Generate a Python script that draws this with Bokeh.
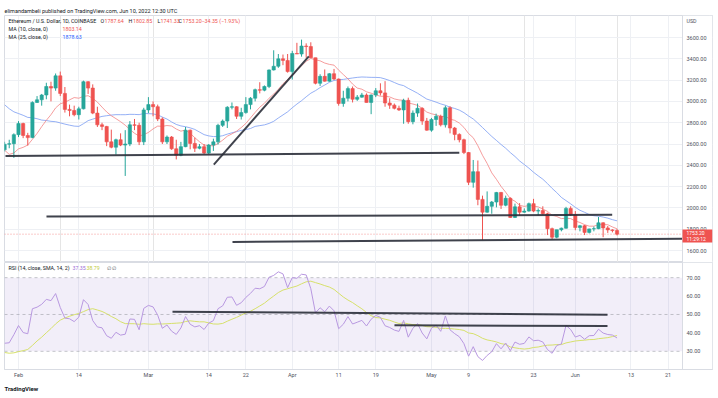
from bokeh.plotting import figure
from bokeh.layouts import column
from bokeh.models import (ColumnDataSource, FixedTicker, Grid, Span, BoxAnnotation,
                          Label, Title, NumeralTickFormatter, Range1d)
from bokeh.embed import file_html
from bokeh.resources import INLINE
import pandas as pd

# ---------------- data (ETH/USD daily, Coinbase) ----------------
# day numbers: Jan 1 2022 = 0 ; first visible candle = Jan 29 2022
FIRST_DAY = 28

open_ = [2545, 2598, 2603, 2688, 2792, 2680, 2660, 2990, 3015, 3060, 3140, 3125, 3240, 3075, 2925, 2915,
         2875, 2930, 3185, 3125, 2890, 2780, 2765, 2620, 2570, 2640, 2590, 2600, 2780, 2775, 2620,
         2920, 2970, 2950, 2835, 2620, 2665, 2555, 2495, 2575, 2730, 2605, 2560, 2575, 2515, 2590,
         2620, 2775, 2815, 2945, 2950, 2860, 2895, 2970, 3030, 3110, 3105, 3140, 3295, 3330, 3400,
         3385, 3280, 3450, 3445, 3520, 3515, 3410, 3170, 3235, 3190, 3260, 3210, 2980, 3030, 3120,
         3020, 3040, 3060, 2990, 3060, 3100, 3080, 2985, 2965, 2935, 2920, 3010, 2810, 2890, 2935,
         2815, 2730, 2830, 2860, 2780, 2940, 2750, 2690, 2640, 2520, 2240, 2340, 2080, 1960, 2015,
         2055, 2145, 2025, 2090, 1910, 2010, 1960, 1970, 2040, 1970, 1975, 1945, 1805, 1725, 1795,
         1809.35, 1995, 1935, 1815, 1832, 1770, 1803, 1805, 1860, 1812, 1793.65, 1787.64]
high = [2621, 2640, 2700, 2815, 2800, 2705, 3000, 3050, 3070, 3175, 3185, 3262, 3280, 3135, 2970, 2960,
        2950, 3195, 3190, 3160, 2950, 2800, 2770, 2735, 2650, 2700, 2730, 2815, 2835, 2800, 2940,
        3040, 3000, 2970, 2850, 2680, 2675, 2640, 2620, 2760, 2735, 2660, 2600, 2600, 2600, 2650,
        2790, 2830, 2955, 2990, 2955, 2940, 3040, 3040, 3120, 3180, 3150, 3300, 3480, 3445, 3440,
        3445, 3475, 3550, 3580, 3545, 3555, 3410, 3255, 3300, 3265, 3305, 3215, 3100, 3140, 3140,
        3060, 3080, 3075, 3065, 3125, 3170, 3190, 3030, 2980, 2960, 3025, 3035, 2915, 2980, 2945,
        2845, 2845, 2885, 2875, 2960, 2955, 2760, 2700, 2650, 2525, 2450, 2445, 2115, 2155, 2065,
        2150, 2150, 2115, 2100, 2040, 2045, 1995, 2050, 2085, 1995, 2015, 1955, 1815, 1795, 1815,
        2010, 2015, 1970, 1840, 1840, 1805, 1825, 1915, 1865, 1830, 1800, 1802.85]
low = [2530, 2560, 2470, 2665, 2655, 2585, 2655, 2985, 2960, 3020, 3000, 3100, 3050, 2895, 2860, 2860,
       2830, 2925, 3070, 2880, 2760, 2730, 2580, 2560, 2500, 2580, 2300, 2580, 2730, 2590, 2590,
       2890, 2860, 2815, 2600, 2600, 2545, 2455, 2485, 2570, 2550, 2525, 2550, 2505, 2505, 2535,
       2595, 2760, 2750, 2925, 2835, 2830, 2885, 2925, 3000, 3075, 3095, 3125, 3290, 3315, 3340,
       3270, 3205, 3445, 3420, 3410, 3410, 3160, 3145, 3185, 3185, 3200, 2960, 2950, 3000, 2990,
       3005, 3035, 2990, 2880, 3040, 3055, 2950, 2930, 2925, 2910, 2790, 2790, 2785, 2855, 2780,
       2725, 2715, 2770, 2765, 2755, 2700, 2635, 2615, 2505, 2215, 2190, 2025, 1700, 1955, 1945,
       2005, 1990, 2015, 1905, 1905, 1930, 1955, 1965, 1960, 1930, 1935, 1745, 1705, 1715, 1780,
       1805, 1925, 1790, 1780, 1745, 1760, 1780, 1800, 1725, 1765, 1770, 1741.33]
close = [2598, 2603, 2688, 2792, 2680, 2660, 2990, 3015, 3060, 3140, 3125, 3240, 3075, 2925, 2915, 2875,
         2930, 3185, 3125, 2890, 2780, 2765, 2620, 2570, 2640, 2590, 2600, 2780, 2775, 2620, 2920,
         2970, 2950, 2835, 2620, 2665, 2555, 2495, 2575, 2730, 2605, 2560, 2575, 2515, 2590, 2620,
         2775, 2815, 2945, 2950, 2860, 2895, 2970, 3030, 3110, 3105, 3140, 3295, 3330, 3400, 3385,
         3280, 3450, 3445, 3520, 3515, 3410, 3170, 3235, 3190, 3260, 3210, 2980, 3030, 3120, 3020,
         3040, 3060, 2990, 3060, 3100, 3080, 2985, 2965, 2935, 2920, 3010, 2810, 2890, 2935, 2815,
         2730, 2830, 2860, 2780, 2940, 2750, 2690, 2640, 2520, 2240, 2340, 2080, 1960, 2015, 2055,
         2145, 2025, 2090, 1910, 2010, 1960, 1970, 2040, 1970, 1975, 1945, 1805, 1725, 1795, 1809.35,
         1995, 1935, 1815, 1832, 1770, 1803, 1805, 1860, 1812, 1793.65, 1787.55, 1753.20]

# closes before the visible window (Dec 1 2021 - Jan 28 2022), needed by the indicators
history_close = [4585, 4510, 4220, 4115, 4195, 4350, 4310, 4430, 4110, 3905, 4075, 4130, 3780, 3855,
                 4020, 3960, 3925, 3960, 3925, 3940, 4020, 3980, 4110, 4045, 4095, 4060, 4040, 3795,
                 3630, 3710, 3680,
                 3770, 3830, 3765, 3790, 3540, 3410, 3195, 3090, 3155, 3080, 3240, 3375, 3250, 3310,
                 3330, 3350, 3210, 3165, 3095, 2995, 2560, 2405, 2535, 2440, 2460, 2460, 2420, 2545]

tick_days = [31, 44, 59, 72, 80, 90, 100, 108, 120, 128, 142, 151, 163, 171]
tick_labels = ["Feb", "14", "Mar", "14", "22", "Apr", "11", "19", "May", "9", "23", "Jun", "13", "21"]
price_ticks = [1600, 1800, 2000, 2200, 2400, 2600, 2800, 3000, 3200, 3400, 3600]
rsi_ticks = [30, 40, 50, 60, 70]
rsi_bands = [70, 50, 30]

# hand-drawn trend lines (day, price)
trend_x0 = [28.2, 73.09, 37.03, 77.12]
trend_y0 = [2487, 2407, 1919, 1680]
trend_x1 = [126.0, 93.57, 158.95, 174.1]
trend_y1 = [2517, 3422, 1935, 1710]
# hand-drawn lines on RSI pane (day, rsi)
rsi_line_x0 = [64.19, 112.03]
rsi_line_y0 = [51.5, 44.1]
rsi_line_x1 = [157.94, 157.94]
rsi_line_y1 = [49.9, 43.7]

last_price = 1753.20

# ---------------- indicators ----------------
n_hist = len(history_close)
all_close = pd.Series(history_close + close, dtype=float)
ma10 = all_close.rolling(10).mean().iloc[n_hist:].tolist()
ma25 = all_close.rolling(25).mean().iloc[n_hist:].tolist()
delta = all_close.diff()
gain = delta.clip(lower=0)
loss = (-delta).clip(lower=0)
avg_gain = gain.ewm(alpha=1 / 14, adjust=False).mean()
avg_loss = loss.ewm(alpha=1 / 14, adjust=False).mean()
rsi_all = 100 - 100 / (1 + avg_gain / avg_loss)
rsi_ma_all = rsi_all.rolling(14).mean()
rsi = rsi_all.iloc[n_hist:].tolist()
rsi_ma = rsi_ma_all.iloc[n_hist:].tolist()

days = list(range(FIRST_DAY, FIRST_DAY + len(close)))
GREEN, RED = "#26a69a", "#ef5350"
src = ColumnDataSource(dict(
    x=days, o=open_, h=high, l=low, c=close,
    top=[max(a, b) for a, b in zip(open_, close)],
    bot=[min(a, b) for a, b in zip(open_, close)],
    col=[GREEN if c >= o else RED for o, c in zip(open_, close)],
))

# ---------------- geometry helpers (page pixel -> data) for text placement ----------------
def dx(px):
    return 31 + (px - 18) / 4.64

def py(y):
    return 3600 - (y - 37) / 0.1065

def ry(y):
    return 70 - (y - 277) / 1.825

FONT = "Roboto"
TXT = "#131722"
AX = "#50535e"
GRID = "#eef0f4"
EDGE = "#d9dce3"
W = 716
X_LEFT, X_PLOT_END, X_RIGHT = dx(4), dx(682), dx(712)

x_range = Range1d(X_LEFT, X_RIGHT)


def style_right_axis(ax):
    ax.major_label_text_font = FONT
    ax.major_label_text_font_size = "5.5px"
    ax.major_label_text_color = AX
    ax.axis_line_color = None
    ax.major_tick_line_color = None
    ax.minor_tick_line_color = None
    ax.major_tick_out = 0
    ax.major_tick_in = 0
    ax.minor_tick_out = 0
    ax.major_label_standoff = -26


def lab(fig, x, y, text, color=TXT, size="5.3px", **kw):
    fig.add_layout(Label(x=x, y=y, text=text, text_color=color, text_font=FONT,
                         text_font_size=size, text_baseline="middle", **kw))


# ---------------- main price pane ----------------
p1 = figure(width=W, height=262, x_range=x_range, y_range=Range1d(py(262), py(15)),
            x_axis_location=None, y_axis_location="right", output_backend="svg",
            toolbar_location=None, min_border_left=4, min_border_right=4,
            min_border_top=15, min_border_bottom=0)
p1.title.text = "elimandambeli published on TradingView.com, Jun 10, 2022 12:30 UTC"
p1.title.text_font = FONT
p1.title.text_font_size = "5.5px"
p1.title.text_font_style = "normal"
p1.title.text_color = TXT
p1.title.standoff = 4
p1.title.align = "left"
p1.outline_line_color = EDGE

p1.yaxis.ticker = FixedTicker(ticks=price_ticks)
p1.yaxis.formatter = NumeralTickFormatter(format="0.00")
style_right_axis(p1.yaxis)
p1.ygrid.grid_line_color = GRID
p1.add_layout(Grid(dimension=0, ticker=FixedTicker(ticks=tick_days), grid_line_color=GRID))
p1.add_layout(BoxAnnotation(left=X_PLOT_END, fill_color="white", fill_alpha=1,
                            line_alpha=0, level="underlay"))
p1.add_layout(Span(location=X_PLOT_END, dimension="height", line_color=EDGE, line_width=1))

p1.segment(x0=[X_LEFT], y0=[last_price], x1=[X_PLOT_END], y1=[last_price], line_color=RED,
           line_alpha=0.6, line_dash="1 2", line_width=1)

p1.line(days, ma25, line_color="#7b9cf2", line_alpha=0.8, line_width=1)
p1.line(days, ma10, line_color="#f27c7c", line_alpha=0.75, line_width=1)

p1.segment(x0="x", y0="l", x1="x", y1="h", color="col", line_width=1, source=src)
p1.vbar(x="x", top="top", bottom="bot", width=0.7, fill_color="col", line_color="col",
        line_width=0.6, source=src)

p1.segment(x0=trend_x0, y0=trend_y0, x1=trend_x1, y1=trend_y1, line_color="#2a2e39",
           line_width=2, line_alpha=0.9)

lab(p1, dx(8), py(20), "Ethereum / U.S. Dollar, 1D, COINBASE")
for px_l, letter, px_v, val in [(100, "O", 104, "1787.64"), (128, "H", 132.5, "1802.85"),
                                (157, "L", 160, "1741.33"), (178, "C", 182, "1753.20")]:
    lab(p1, dx(px_l), py(20), letter)
    lab(p1, dx(px_v), py(20), val, RED)
lab(p1, dx(201), py(20), "\u221234.35 (\u22121.93%)", RED)
lab(p1, dx(8), py(28), "MA (10, close, 0)")
lab(p1, dx(62), py(28), "1803.14", RED)
lab(p1, dx(8), py(36), "MA (25, close, 0)")
lab(p1, dx(62), py(36), "1878.63", "#2962ff")

lab(p1, dx(686), py(20), "USD", AX)
p1.add_layout(BoxAnnotation(left=X_PLOT_END, right=X_RIGHT, bottom=py(242), top=py(229),
                            fill_color=RED, fill_alpha=1, line_alpha=0))
lab(p1, dx(686), py(232.5), "1753.20", "white", size="5px")
lab(p1, dx(686), py(238.8), "11:29:12", "white", size="5px")

# ---------------- RSI pane ----------------
p2 = figure(width=W, height=132, x_range=x_range, y_range=Range1d(ry(368), ry(262)),
            x_axis_location="below", y_axis_location="right", output_backend="svg",
            toolbar_location=None, min_border_left=4, min_border_right=4,
            min_border_top=0, min_border_bottom=0)
p2.outline_line_color = EDGE
p2.yaxis.ticker = FixedTicker(ticks=rsi_ticks)
p2.yaxis.formatter = NumeralTickFormatter(format="0.00")
style_right_axis(p2.yaxis)
xa = p2.xaxis
xa.major_label_text_font = FONT
xa.major_label_text_font_size = "5.5px"
xa.major_label_text_color = AX
xa.major_tick_line_color = None
xa.minor_tick_line_color = None
xa.major_tick_out = 0
xa.major_tick_in = 0
xa.minor_tick_out = 0
xa.axis_line_color = EDGE
xa.major_label_standoff = 2
xa.ticker = FixedTicker(ticks=tick_days)
xa.major_label_overrides = {d: t for d, t in zip(tick_days, tick_labels)}
p2.xgrid.grid_line_color = GRID
p2.ygrid.grid_line_color = None
p2.add_layout(BoxAnnotation(left=X_PLOT_END, fill_color="white", fill_alpha=1,
                            line_alpha=0, level="underlay"))
p2.add_layout(Span(location=X_PLOT_END, dimension="height", line_color=EDGE, line_width=1))

p2.add_layout(BoxAnnotation(left=X_LEFT, right=X_PLOT_END, bottom=30, top=70,
                            fill_color="#7e57c2", fill_alpha=0.1, line_alpha=0,
                            level="underlay"))
p2.segment(x0=[X_LEFT] * 3, y0=rsi_bands, x1=[X_PLOT_END] * 3, y1=rsi_bands,
           line_color="#9598a1", line_alpha=0.55, line_dash="3 3", line_width=1)

p2.line(days, rsi_ma, line_color="#d6e06a", line_width=1)
p2.line(days, rsi, line_color="#b898e0", line_width=1)
p2.segment(x0=rsi_line_x0, y0=rsi_line_y0, x1=rsi_line_x1, y1=rsi_line_y1,
           line_color="#2a2e39", line_width=2, line_alpha=0.9)

lab(p2, dx(8), ry(267), "RSI (14, close, SMA, 14, 2)")
lab(p2, dx(72), ry(267), "37.35", "#9c6fd6")
lab(p2, dx(86), ry(267), "38.79", "#c0cc3a")
lab(p2, dx(106), ry(267), "\u2205  \u2205", AX)

p2.add_layout(Title(text="TradingView", text_font=FONT, text_font_size="6px",
                    text_font_style="bold", text_color="#131722", align="left",
                    standoff=5), "below")

layout = column(p1, p2)
open("out.html", "w").write(file_html(layout, INLINE))
